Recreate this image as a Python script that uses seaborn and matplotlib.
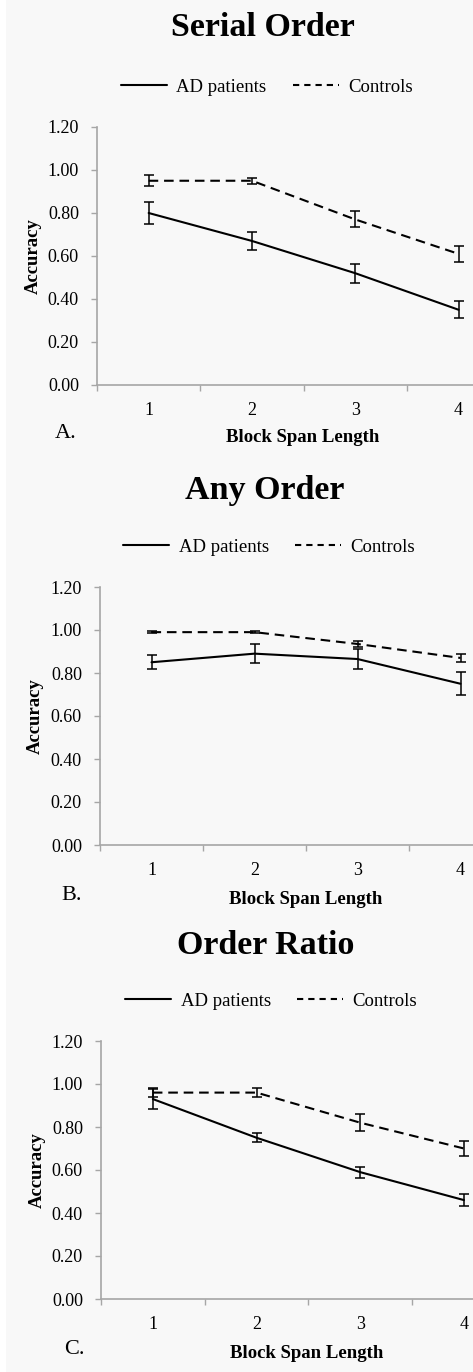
import numpy as np
import pandas as pd
import matplotlib
matplotlib.use("Agg")
import matplotlib.pyplot as plt
from matplotlib.patches import Rectangle
from matplotlib.ticker import FixedLocator, NullFormatter
import seaborn as sns

# ---- data -------------------------------------------------------------
span = [1, 2, 3, 4]
groups = ["AD patients", "Controls"]
panel_titles = ["Serial Order", "Any Order", "Order Ratio"]
panel_letters = ["A.", "B.", "C."]
y_ticks = [0.0, 0.2, 0.4, 0.6, 0.8, 1.0, 1.2]

serial_ad = [0.80, 0.67, 0.52, 0.35]
serial_ad_err = [0.05, 0.04, 0.045, 0.04]
serial_ctrl = [0.95, 0.95, 0.77, 0.61]
serial_ctrl_err = [0.025, 0.015, 0.037, 0.037]

any_ad = [0.85, 0.89, 0.865, 0.75]
any_ad_err = [0.033, 0.043, 0.045, 0.053]
any_ctrl = [0.99, 0.99, 0.935, 0.87]
any_ctrl_err = [0.005, 0.005, 0.016, 0.02]

ratio_ad = [0.93, 0.75, 0.59, 0.46]
ratio_ad_err = [0.047, 0.022, 0.026, 0.027]
ratio_ctrl = [0.96, 0.96, 0.82, 0.70]
ratio_ctrl_err = [0.02, 0.02, 0.039, 0.034]

panels = [
    (serial_ad, serial_ad_err, serial_ctrl, serial_ctrl_err),
    (any_ad, any_ad_err, any_ctrl, any_ctrl_err),
    (ratio_ad, ratio_ad_err, ratio_ctrl, ratio_ctrl_err),
]

# ---- style ------------------------------------------------------------
sns.set_style("ticks")
plt.rcParams["font.family"] = ["Liberation Serif", "DejaVu Serif"]
plt.rcParams["axes.facecolor"] = "none"
plt.rcParams["text.color"] = "black"
plt.rcParams["axes.labelcolor"] = "black"

W, H = 473, 1372
fig = plt.figure(figsize=(W / 100, H / 100), dpi=100, facecolor="#f8f8f8")
# thin white margin along the left edge of the page
fig.patches.append(Rectangle((0, 0), 6 / W, 1, transform=fig.transFigure,
                             facecolor="white", edgecolor="none", zorder=0))

def fx(px):
    return px / W

def fy(py):
    return 1 - py / H

# layout in pixels: (left, category width, top of 1.20, bottom of 0.00)
layout = [
    dict(left=97, cat=103.3, top=127, bottom=385,
         title=(263, 28), legend=(267, 87), letter=(55, 433),
         xlabel=(303, 438), ylabel_x=33),
    dict(left=100, cat=103.0, top=587, bottom=845,
         title=(265, 490), legend=(269, 547), letter=(61, 895),
         xlabel=(306, 900), ylabel_x=35),
    dict(left=101, cat=103.7, top=1041, bottom=1299,
         title=(266, 945), legend=(271, 1001), letter=(64, 1350),
         xlabel=(307, 1353), ylabel_x=37),
]

spine_grey = "#a6a6a6"
line_w = 1.5
dash_pattern = (4.6, 2.8)

for (ad, ad_err, ctrl, ctrl_err), title, letter, L in zip(
        panels, panel_titles, panel_letters, layout):
    ax_w = 4 * L["cat"]
    ax = fig.add_axes([fx(L["left"]), fy(L["bottom"]),
                       ax_w / W, (L["bottom"] - L["top"]) / H])

    df = pd.DataFrame({
        "span": span * 2,
        "accuracy": ad + ctrl,
        "group": [groups[0]] * 4 + [groups[1]] * 4,
    })
    sns.lineplot(data=df, x="span", y="accuracy", hue="group", style="group",
                 palette={groups[0]: "black", groups[1]: "black"},
                 dashes={groups[0]: "", groups[1]: dash_pattern},
                 linewidth=line_w, ax=ax, errorbar=None)

    for vals, errs in ((ad, ad_err), (ctrl, ctrl_err)):
        ax.errorbar(span, vals, yerr=errs, fmt="none", ecolor="black",
                    elinewidth=1.1, capsize=3.6, capthick=1.1, zorder=3)

    ax.set_xlim(0.5, 4.5)
    ax.set_ylim(0, 1.2)
    ax.set_yticks(y_ticks)
    ax.set_yticklabels([f"{t:.2f}" for t in y_ticks])
    ax.set_xticks(span)
    ax.set_xticklabels([str(s) for s in span])
    ax.xaxis.set_minor_locator(FixedLocator([0.5, 1.5, 2.5, 3.5, 4.5]))
    ax.xaxis.set_minor_formatter(NullFormatter())
    ax.tick_params(axis="x", which="major", length=0, pad=12.5,
                   labelsize=13, labelcolor="black")
    ax.tick_params(axis="x", which="minor", length=4, width=1,
                   color=spine_grey)
    ax.tick_params(axis="y", length=4.5, width=1, color=spine_grey,
                   pad=8.5, labelsize=13, labelcolor="black")
    sns.despine(ax=ax, top=True, right=True)
    for s in ("left", "bottom"):
        ax.spines[s].set_color(spine_grey)
        ax.spines[s].set_linewidth(1.2)

    ax.set_xlabel("Block Span Length", fontsize=13.5, fontweight="bold",
                  color="black")
    ax.xaxis.set_label_coords(
        (L["xlabel"][0] - L["left"]) / ax_w,
        (L["bottom"] - L["xlabel"][1]) / (L["bottom"] - L["top"]))
    ax.xaxis.label.set_va("center")
    ax.set_ylabel("Accuracy", fontsize=13.5, fontweight="bold", color="black")
    ax.yaxis.set_label_coords((L["ylabel_x"] - L["left"]) / ax_w, 0.5)
    ax.yaxis.label.set_va("center")

    sns.move_legend(ax, loc="center",
                    bbox_to_anchor=(fx(L["legend"][0]), fy(L["legend"][1])),
                    bbox_transform=fig.transFigure, ncol=2, frameon=False,
                    title=None, fontsize=13.5, handlelength=2.45,
                    handletextpad=0.5, columnspacing=1.4)
    leg = ax.get_legend()
    for h in leg.get_lines():
        h.set_linewidth(line_w)
    leg.get_lines()[1].set_dashes((3.0, 2.4))
    for t in leg.get_texts():
        t.set_color("black")

    fig.text(fx(L["title"][0]), fy(L["title"][1]), title, ha="center",
             va="center", fontsize=24.5, fontweight="bold", color="black")
    fig.text(fx(L["letter"][0]), fy(L["letter"][1]), letter, ha="left",
             va="center", fontsize=16, color="black")

fig.savefig("out.png", dpi=100, facecolor=fig.get_facecolor())
